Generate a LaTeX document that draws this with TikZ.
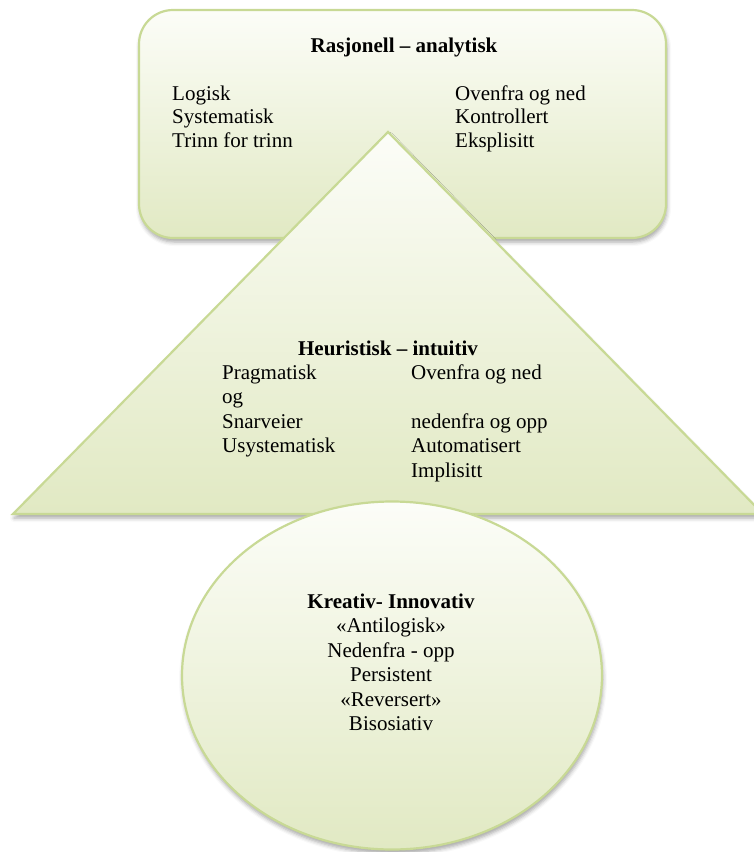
\documentclass[tikz,border=0pt]{standalone}
\usepackage{fontspec}
\setmainfont{Liberation Serif}
\usetikzlibrary{shadows.blur}

\definecolor{shapeedge}{HTML}{C8D995}
\definecolor{shapetop}{HTML}{FCFDF8}
\definecolor{shapebottom}{HTML}{E1E9C3}

\tikzset{
  panel/.style={draw=shapeedge, line width=2.2pt, top color=shapetop, bottom color=shapebottom,
    blur shadow={shadow xshift=1pt, shadow yshift=-4pt, shadow blur radius=4pt, shadow opacity=35}},
  txt/.style={inner sep=0pt, font=\fontsize{21}{24}\selectfont},
  head/.style={txt, font=\fontsize{21}{24}\selectfont\bfseries, anchor=base},
  item/.style={txt, anchor=base west},
  citem/.style={txt, anchor=base},
}

\begin{document}
\begin{tikzpicture}[x=1pt, y=-1pt]
  \useasboundingbox (0,0) rectangle (754,852);
  \clip (0,0) rectangle (754,852);

  % rational-analytic panel
  \draw[panel, rounded corners=34pt] (139,10) rectangle (666,238);
  \node[head] (rtitle) at (404,52) {Rasjonell – analytisk};
  \node[item] (rl1) at (172,100)   {Logisk};
  \node[item] (rl2) at (172,123.5) {Systematisk};
  \node[item] (rl3) at (172,147)   {Trinn for trinn};
  \node[item] (rr1) at (455,100)   {Ovenfra og ned};
  \node[item] (rr2) at (455,123.5) {Kontrollert};
  \node[item] (rr3) at (455,147)   {Eksplisitt};

  % heuristic-intuitive triangle
  \draw[panel, line join=miter] (388,132) -- (763,514) -- (13,514) -- cycle;
  \node[head] (htitle) at (388,355) {Heuristisk – intuitiv};
  \node[item] (hl1) at (222,379)   {Pragmatisk};
  \node[item] (hl2) at (222,403.5) {og};
  \node[item] (hl3) at (222,428)   {Snarveier};
  \node[item] (hl4) at (222,452.5) {Usystematisk};
  \node[item] (hr1) at (411,379)   {Ovenfra og ned};
  \node[item] (hr2) at (411,428)   {nedenfra og opp};
  \node[item] (hr3) at (411,452.5) {Automatisert};
  \node[item] (hr4) at (411,477)   {Implisitt};

  % creative-innovative ellipse
  \draw[panel] (392,675.5) ellipse [x radius=210, y radius=174];
  \node[head] (ctitle) at (391,608) {Kreativ- Innovativ};
  \node[citem] (c1) at (391,632.5) {«Antilogisk»};
  \node[citem] (c2) at (391,657)   {Nedenfra - opp};
  \node[citem] (c3) at (391,681.5) {Persistent};
  \node[citem] (c4) at (391,706)   {«Reversert»};
  \node[citem] (c5) at (391,730.5) {Bisosiativ};
\end{tikzpicture}
\end{document}
